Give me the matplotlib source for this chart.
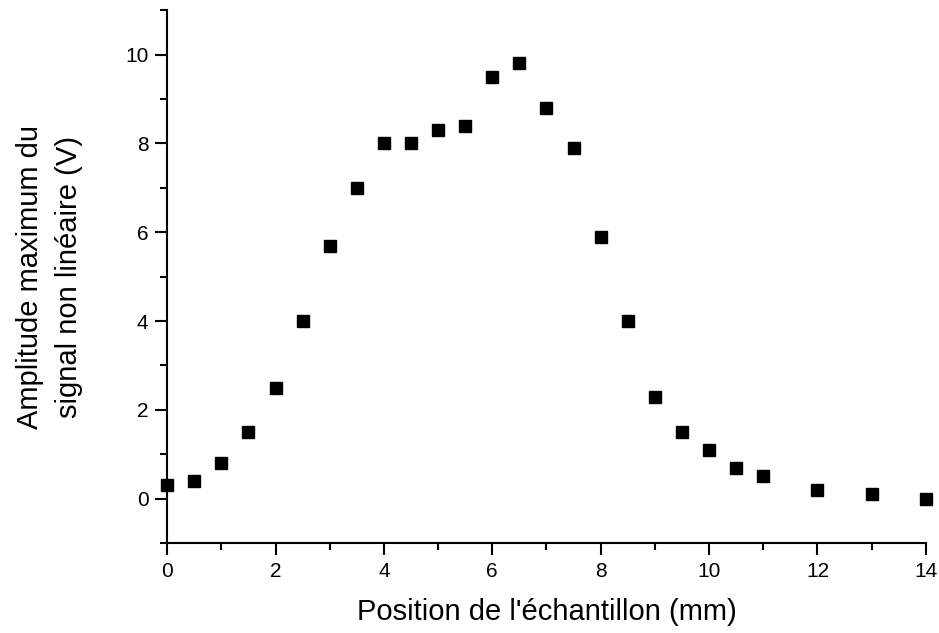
import matplotlib
matplotlib.use("Agg")
import matplotlib.pyplot as plt
from matplotlib.ticker import MultipleLocator

plt.rcParams['font.family'] = ['Liberation Sans', 'DejaVu Sans']

# position (mm) and amplitude (V)
position = [0, 0.5, 1, 1.5, 2, 2.5, 3, 3.5, 4, 4.5, 5, 5.5, 6, 6.5, 7, 7.5,
            8, 8.5, 9, 9.5, 10, 10.5, 11, 12, 13, 14]
amplitude = [0.3, 0.4, 0.8, 1.5, 2.5, 4.0, 5.7, 7.0, 8.0, 8.0, 8.3, 8.4, 9.5, 9.8,
             8.8, 7.9, 5.9, 4.0, 2.3, 1.5, 1.1, 0.7, 0.5, 0.2, 0.1, 0.0]

fig = plt.figure(figsize=(9.39, 6.33), dpi=100)
ax = fig.add_axes([0.178, 0.142, 0.808, 0.842])

ax.plot(position, amplitude, linestyle='none', marker='s', markersize=8.5,
        color='black', clip_on=False, zorder=3)

ax.set_xlim(0, 14)
ax.set_ylim(-1, 11)
ax.xaxis.set_major_locator(MultipleLocator(2))
ax.xaxis.set_minor_locator(MultipleLocator(1))
ax.yaxis.set_major_locator(MultipleLocator(2))
ax.yaxis.set_minor_locator(MultipleLocator(1))

for s in ['top', 'right']:
    ax.spines[s].set_visible(False)
for s in ['left', 'bottom']:
    ax.spines[s].set_linewidth(1.5)

ax.tick_params(which='major', direction='out', length=8.5, width=1.5, labelsize=15, pad=5)
ax.tick_params(which='minor', direction='out', length=5, width=1.5)

ax.set_xlabel("Position de l'échantillon (mm)", fontsize=21, labelpad=12)
ax.set_ylabel("Amplitude maximum du\nsignal non linéaire (V)", fontsize=21,
              labelpad=30, linespacing=1.5)

fig.savefig("out.png", dpi=100)
